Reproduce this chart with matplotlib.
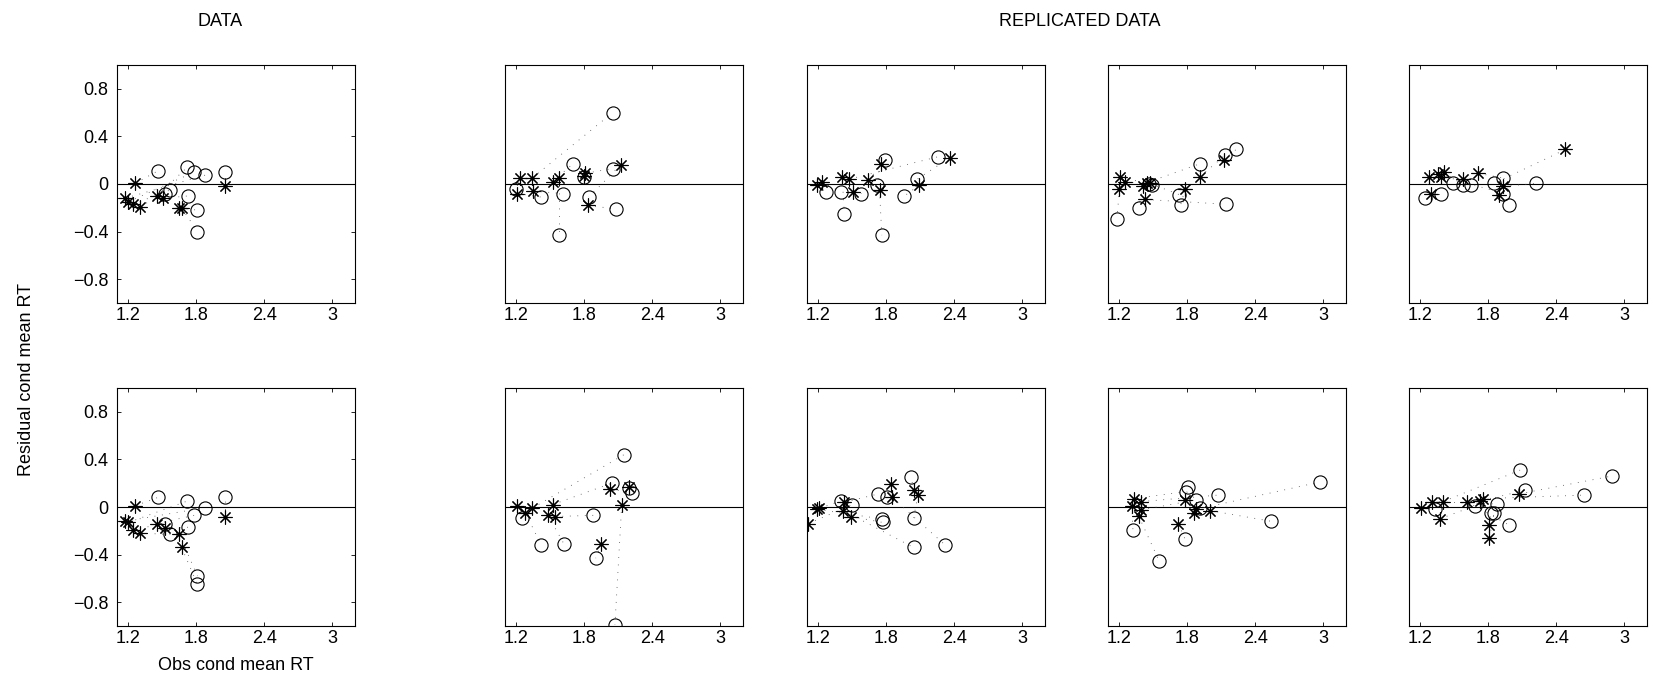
import matplotlib
matplotlib.use("Agg")
import matplotlib.pyplot as plt

plt.rcParams['font.family'] = ['Liberation Sans', 'DejaVu Sans']
plt.rcParams['font.size'] = 13

# star i is joined to circle i by a dotted line
# top row: column 0 is DATA, columns 1-4 are replicated data
top_star_x = [
    [1.26, 2.05, 1.67, 1.65, 1.51, 1.45, 1.30, 1.24, 1.20, 1.17],
    [1.34, 1.58, 2.12, 1.23, 1.21, 1.35, 1.52, 1.81, 1.80, 1.83],
    [2.36, 1.47, 1.19, 1.23, 1.41, 1.51, 1.64, 2.09, 1.75, 1.74],
    [2.12, 1.91, 1.44, 1.43, 1.78, 1.47, 1.41, 1.20, 1.21, 1.25],
    [2.48, 1.93, 1.89, 1.71, 1.58, 1.41, 1.38, 1.36, 1.28, 1.29],
]
top_star_y = [
    [0.005, -0.02, -0.20, -0.20, -0.12, -0.10, -0.19, -0.17, -0.15, -0.12],
    [0.05, 0.05, 0.16, 0.05, -0.08, -0.06, 0.02, 0.09, 0.07, -0.18],
    [0.22, 0.04, -0.01, 0.02, 0.06, -0.07, 0.03, -0.01, 0.17, -0.05],
    [0.20, 0.06, 0.01, -0.13, -0.04, 0.005, -0.02, -0.04, 0.06, 0.02],
    [0.29, -0.02, -0.09, 0.09, 0.04, 0.10, 0.06, 0.08, 0.06, -0.08],
]
top_circ_x = [
    [1.46, 2.05, 1.81, 1.81, 1.73, 1.72, 1.52, 1.57, 1.78, 1.88],
    [2.05, 1.58, 1.84, 1.20, 1.42, 1.61, 1.70, 2.05, 1.80, 2.08],
    [2.07, 2.26, 1.27, 1.40, 1.43, 1.58, 1.79, 1.96, 1.72, 1.76],
    [2.23, 2.13, 1.91, 2.14, 1.74, 1.73, 1.37, 1.18, 1.46, 1.49],
    [1.85, 2.22, 1.98, 1.93, 1.65, 1.58, 1.49, 1.93, 1.24, 1.38],
]
top_circ_y = [
    [0.11, 0.10, -0.40, -0.22, -0.10, 0.14, -0.08, -0.05, 0.10, 0.075],
    [0.60, -0.43, -0.11, -0.04, -0.11, -0.08, 0.17, 0.13, 0.06, -0.21],
    [0.04, 0.23, -0.07, -0.07, -0.25, -0.08, 0.20, -0.10, -0.01, -0.43],
    [0.29, 0.24, 0.17, -0.17, -0.18, -0.09, -0.20, -0.29, 0.00, -0.01],
    [0.005, 0.005, -0.18, 0.05, -0.01, -0.01, 0.01, -0.08, -0.12, -0.08],
]

bot_star_x = [
    [1.26, 1.17, 1.20, 1.24, 1.30, 1.45, 1.52, 1.65, 1.67, 2.05],
    [1.34, 2.13, 1.95, 1.21, 1.28, 1.48, 1.52, 1.54, 2.03, 2.19],
    [1.42, 1.85, 2.04, 2.08, 1.84, 1.43, 1.49, 1.19, 1.21, 1.11],
    [2.00, 1.88, 1.37, 1.72, 1.86, 1.78, 1.33, 1.39, 1.31, 1.39],
    [1.40, 2.07, 1.75, 1.73, 1.81, 1.81, 1.21, 1.37, 1.30, 1.61],
]
bot_star_y = [
    [0.01, -0.12, -0.13, -0.19, -0.22, -0.14, -0.18, -0.23, -0.34, -0.08],
    [-0.01, 0.02, -0.31, 0.01, -0.05, -0.07, 0.02, -0.08, 0.15, 0.17],
    [-0.03, 0.08, 0.14, 0.10, 0.19, 0.04, -0.08, -0.02, -0.01, -0.14],
    [-0.03, -0.02, -0.075, -0.14, -0.05, 0.06, 0.07, -0.025, 0.01, 0.045],
    [0.045, 0.11, 0.07, 0.05, -0.15, -0.26, -0.01, -0.10, 0.045, 0.045],
]
bot_circ_x = [
    [1.46, 1.88, 1.72, 1.52, 1.57, 1.78, 1.73, 1.81, 1.81, 2.05],
    [2.15, 2.07, 1.90, 1.25, 1.42, 1.62, 2.04, 1.88, 2.22, 2.19],
    [2.04, 2.32, 2.02, 2.04, 1.81, 1.73, 1.77, 1.76, 1.40, 1.50],
    [2.54, 2.97, 1.55, 1.78, 1.91, 1.81, 1.79, 1.88, 1.32, 2.07],
    [2.08, 2.89, 2.64, 2.12, 1.82, 1.85, 1.33, 1.68, 1.88, 1.98],
]
bot_circ_y = [
    [0.08, -0.005, 0.05, -0.14, -0.23, -0.07, -0.17, -0.58, -0.65, 0.08],
    [0.44, -0.99, -0.43, -0.09, -0.32, -0.31, 0.20, -0.07, 0.12, 0.16],
    [-0.34, -0.32, 0.25, -0.09, 0.08, 0.11, -0.13, -0.10, 0.05, 0.02],
    [-0.12, 0.21, -0.45, -0.27, -0.005, 0.17, 0.13, 0.06, -0.19, 0.10],
    [0.31, 0.26, 0.10, 0.14, -0.05, -0.05, -0.02, 0.01, 0.025, -0.15],
]

x_ticks = [1.2, 1.8, 2.4, 3]
y_ticks = [-0.8, -0.4, 0, 0.4, 0.8]

W, H = 1653, 687
fig = plt.figure(figsize=(W / 100, H / 100), dpi=100)

col_left = [117, 505, 807, 1108, 1409]
row_top = [65, 388]
pw, ph = 238, 238

def draw_panel(ax, sx, sy, cx, cy, show_y):
    ax.axhline(0, color='black', lw=0.8, zorder=1)
    for i in range(len(sx)):
        ax.plot([sx[i], cx[i]], [sy[i], cy[i]], color='0.3', lw=0.6,
                linestyle=(0, (1, 8)), zorder=2)
    ax.plot(cx, cy, linestyle='none', marker='o', markersize=9.5,
            markerfacecolor='none', markeredgecolor='black', mew=0.8, zorder=3)
    ax.plot(sx, sy, linestyle='none', marker=(8, 2, 0), markersize=10,
            color='black', mew=0.8, zorder=4)
    ax.set_xlim(1.1, 3.2)
    ax.set_ylim(-1, 1)
    ax.set_xticks(x_ticks)
    ax.set_xticklabels(['1.2', '1.8', '2.4', '3'])
    ax.set_yticks(y_ticks)
    if show_y:
        ax.set_yticklabels(['\u22120.8', '\u22120.4', '0', '0.4', '0.8'])
    else:
        ax.set_yticklabels([])
    ax.tick_params(direction='in', top=True, right=True, length=3, width=0.6)
    ax.tick_params(axis='x', pad=3)
    ax.tick_params(axis='y', pad=6)
    if not show_y:
        ax.tick_params(axis='y', left=False, right=False)
    for s in ax.spines.values():
        s.set_linewidth(0.8)

rows = [(top_star_x, top_star_y, top_circ_x, top_circ_y),
        (bot_star_x, bot_star_y, bot_circ_x, bot_circ_y)]

for r, (SX, SY, CX, CY) in enumerate(rows):
    for c in range(5):
        rect = [col_left[c] / W, 1 - (row_top[r] + ph) / H, pw / W, ph / H]
        ax = fig.add_axes(rect)
        draw_panel(ax, SX[c], SY[c], CX[c], CY[c], c == 0)
        if r == 1 and c == 0:
            ax.set_xlabel('Obs cond mean RT', labelpad=7)

fig.text(220 / W, 1 - 21 / H, 'DATA', ha='center', va='center')
fig.text(1080 / W, 1 - 21 / H, 'REPLICATED DATA', ha='center', va='center')
fig.text(27 / W, 1 - 380 / H, 'Residual cond mean RT', rotation=90,
         ha='center', va='center')

fig.savefig('out.png', dpi=100)
